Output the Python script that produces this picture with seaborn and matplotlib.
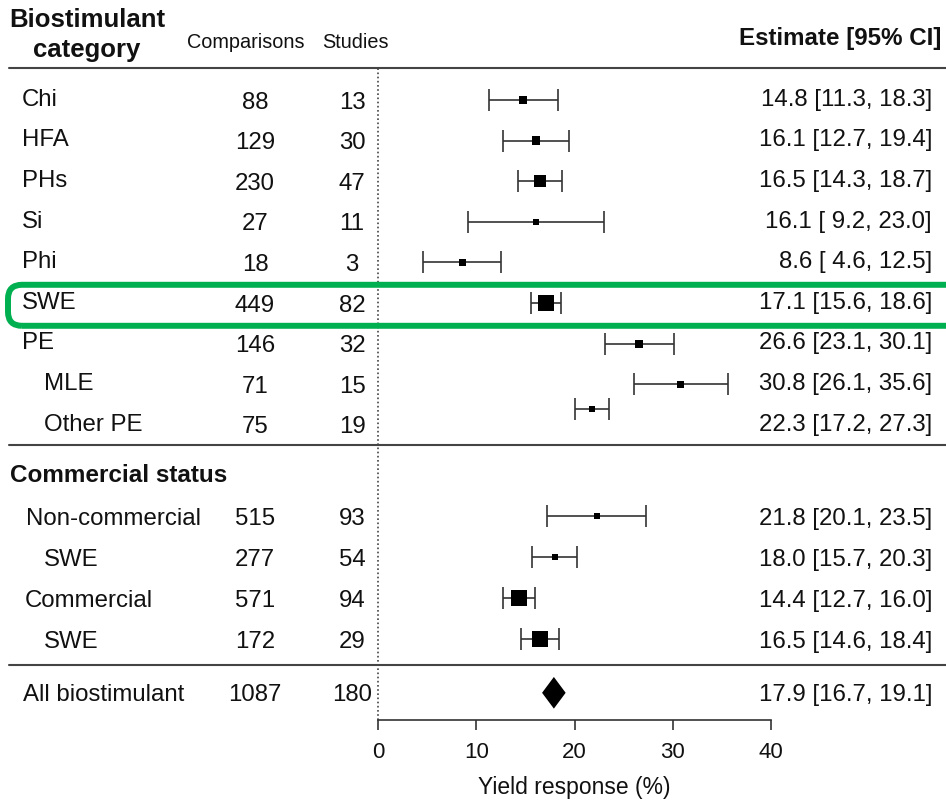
import numpy as np
import pandas as pd
import matplotlib
matplotlib.use("Agg")
import matplotlib.pyplot as plt
import matplotlib.transforms as mtransforms
from matplotlib.patches import FancyBboxPatch
import seaborn as sns

# ---------------- data ----------------
cat_labels = ["Chi", "HFA", "PHs", "Si", "Phi", "SWE", "PE", "MLE", "Other PE"]
cat_comparisons = [88, 129, 230, 27, 18, 449, 146, 71, 75]
cat_studies = [13, 30, 47, 11, 3, 82, 32, 15, 19]
cat_estimate = [14.8, 16.1, 16.5, 16.1, 8.6, 17.1, 26.6, 30.8, 22.3]
cat_ci_low = [11.3, 12.7, 14.3, 9.2, 4.6, 15.6, 23.1, 26.1, 17.2]
cat_ci_high = [18.3, 19.4, 18.7, 23.0, 12.5, 18.6, 30.1, 35.6, 27.3]
# marks as they are drawn in the picture
cat_mark_est = [14.8, 16.1, 16.5, 16.1, 8.6, 17.1, 26.6, 30.8, 21.8]
cat_mark_low = [11.3, 12.7, 14.3, 9.2, 4.6, 15.6, 23.1, 26.1, 20.1]
cat_mark_high = [18.3, 19.4, 18.7, 23.0, 12.5, 18.6, 30.1, 35.6, 23.5]
cat_weight = [8, 8.5, 12, 5.5, 7.5, 16, 8, 7, 6]

com_labels = ["Non-commercial", "SWE", "Commercial", "SWE"]
com_comparisons = [515, 277, 571, 172]
com_studies = [93, 54, 94, 29]
com_estimate = [21.8, 18.0, 14.4, 16.5]
com_ci_low = [20.1, 15.7, 12.7, 14.6]
com_ci_high = [23.5, 20.3, 16.0, 18.4]
com_mark_est = [22.3, 18.0, 14.4, 16.5]
com_mark_low = [17.2, 15.7, 12.7, 14.6]
com_mark_high = [27.3, 20.3, 16.0, 18.4]
com_weight = [6.5, 5.5, 16, 16]

all_label = "All biostimulant"
all_comparisons = 1087
all_studies = 180
all_estimate = 17.9
all_ci_low = 16.7
all_ci_high = 19.1

x_ticks = [0, 10, 20, 30, 40]

# ---------------- style ----------------
sns.set_theme(style="ticks")
plt.rcParams["font.family"] = ["Liberation Sans", "DejaVu Sans"]
TXT = "#111111"

W, H = 946, 800
fig = plt.figure(figsize=(W / 100, H / 100), dpi=100)
ax = fig.add_axes([378 / W, 80 / H, 393 / W, 652 / H])

# layout rows
rows_cat = np.arange(len(cat_labels), dtype=float)
header2_row = 9.2
rows_com = 10.25 + np.arange(len(com_labels)) * 1.01
all_row = 14.6
YTOP, YBOT = -0.79, 15.27
mark_rows_cat = rows_cat.copy()
mark_rows_cat[8] -= 0.4  # Other PE mark sits slightly above its text row

cat_indent = [22, 22, 22, 22, 22, 22, 22, 44, 44]
com_indent = [26, 44, 25, 44]

# ---------------- marks ----------------
df = pd.DataFrame({
    "est": cat_mark_est + com_mark_est,
    "low": cat_mark_low + com_mark_low,
    "high": cat_mark_high + com_mark_high,
    "row": list(mark_rows_cat) + list(rows_com),
    "w": cat_weight + com_weight,
})

ax.errorbar(df["est"], df["row"],
            xerr=[df["est"] - df["low"], df["high"] - df["est"]],
            fmt="none", ecolor="#333333", elinewidth=1.2, capsize=8,
            capthick=1.2, zorder=2)
sns.scatterplot(data=df, x="est", y="row", marker="s", color="black",
                s=(df["w"] * 0.72) ** 2, linewidth=0, legend=False,
                ax=ax, zorder=3)

dh = 0.39
ax.fill([all_ci_low, all_estimate, all_ci_high, all_estimate],
        [all_row, all_row - dh, all_row, all_row + dh],
        color="black", zorder=3, lw=0)

ax.axvline(0, color="#444444", ls=(0, (1, 1.5)), lw=1.2, clip_on=False, zorder=1)

ax.set_xlim(0, 40)
ax.set_ylim(YBOT, YTOP)
ax.set_xticks(x_ticks)
ax.set_xticklabels([str(t) for t in x_ticks])
ax.set_yticks([])
ax.set_ylabel("")
ax.set_xlabel("Yield response (%)", fontsize=16.5, color=TXT, labelpad=9)
sns.despine(ax=ax, left=True)
ax.spines["bottom"].set_color("#333333")
ax.spines["bottom"].set_linewidth(1.2)
ax.tick_params(axis="x", direction="out", length=7.2, width=1.2,
               color="#333333", labelsize=16, pad=9, labelcolor=TXT)
ax.tick_params(axis="y", left=False, labelleft=False)

# ---------------- text table ----------------
trans = mtransforms.blended_transform_factory(fig.transFigure, ax.transData)
FS = 17.3
BASE = 0.212


def fx(px):
    return px / W


def row_text(row, label, indent, comp, stud, est, lo, hi, shift=0.0):
    ax.text(fx(indent), row + BASE + shift, label, transform=trans,
            ha="left", va="baseline", fontsize=FS, color=TXT)
    ax.text(fx(255), row + BASE, str(comp), transform=trans,
            ha="center", va="baseline", fontsize=FS, color=TXT)
    ax.text(fx(352), row + BASE, str(stud), transform=trans,
            ha="center", va="baseline", fontsize=FS, color=TXT)
    ax.text(fx(932), row + BASE + shift, f"{est:.1f} [{lo:4.1f}, {hi:.1f}]",
            transform=trans, ha="right", va="baseline", fontsize=FS, color=TXT)


for i in range(len(cat_labels)):
    row_text(rows_cat[i], cat_labels[i], cat_indent[i], cat_comparisons[i],
             cat_studies[i], cat_estimate[i], cat_ci_low[i], cat_ci_high[i],
             shift=-0.07)
for i in range(len(com_labels)):
    row_text(rows_com[i], com_labels[i], com_indent[i], com_comparisons[i],
             com_studies[i], com_estimate[i], com_ci_low[i], com_ci_high[i])
row_text(all_row, all_label, 23, all_comparisons, all_studies,
         all_estimate, all_ci_low, all_ci_high)

ax.text(fx(10), header2_row + BASE, "Commercial status", transform=trans,
        ha="left", va="baseline", fontsize=17.5, fontweight="bold", color=TXT)

# header
fig.text(87 / W, 1 - 27 / H, "Biostimulant", ha="center", va="baseline",
         fontsize=18.5, fontweight="bold", color=TXT)
fig.text(87 / W, 1 - 57 / H, "category", ha="center", va="baseline",
         fontsize=18.5, fontweight="bold", color=TXT)
fig.text(246 / W, 1 - 48 / H, "Comparisons", ha="center", va="baseline",
         fontsize=14.3, color=TXT)
fig.text(355 / W, 1 - 48 / H, "Studies", ha="center", va="baseline",
         fontsize=14.3, color=TXT)
fig.text(941 / W, 1 - 45 / H, "Estimate [95% CI]", ha="right", va="baseline",
         fontsize=17.4, fontweight="bold", color=TXT)

# horizontal rules
for yr in (YTOP, 8.5, 13.92):
    ax.plot([fx(9), 1.0], [yr, yr], transform=trans, color="#444444",
            lw=1.5, clip_on=False, zorder=1)

# green highlight box around the SWE row
fig.canvas.draw()
y_top_px = ax.transData.transform((0, rows_cat[5] - 0.45))[1]
y_bot_px = ax.transData.transform((0, rows_cat[5] + 0.56))[1]
box = FancyBboxPatch((8, y_bot_px), 960, y_top_px - y_bot_px,
                     boxstyle="round,pad=0,rounding_size=14",
                     transform=mtransforms.IdentityTransform(),
                     fill=False, ec="#00B050", lw=4.3, zorder=10)
fig.add_artist(box)

fig.savefig("out.png", dpi=100)
